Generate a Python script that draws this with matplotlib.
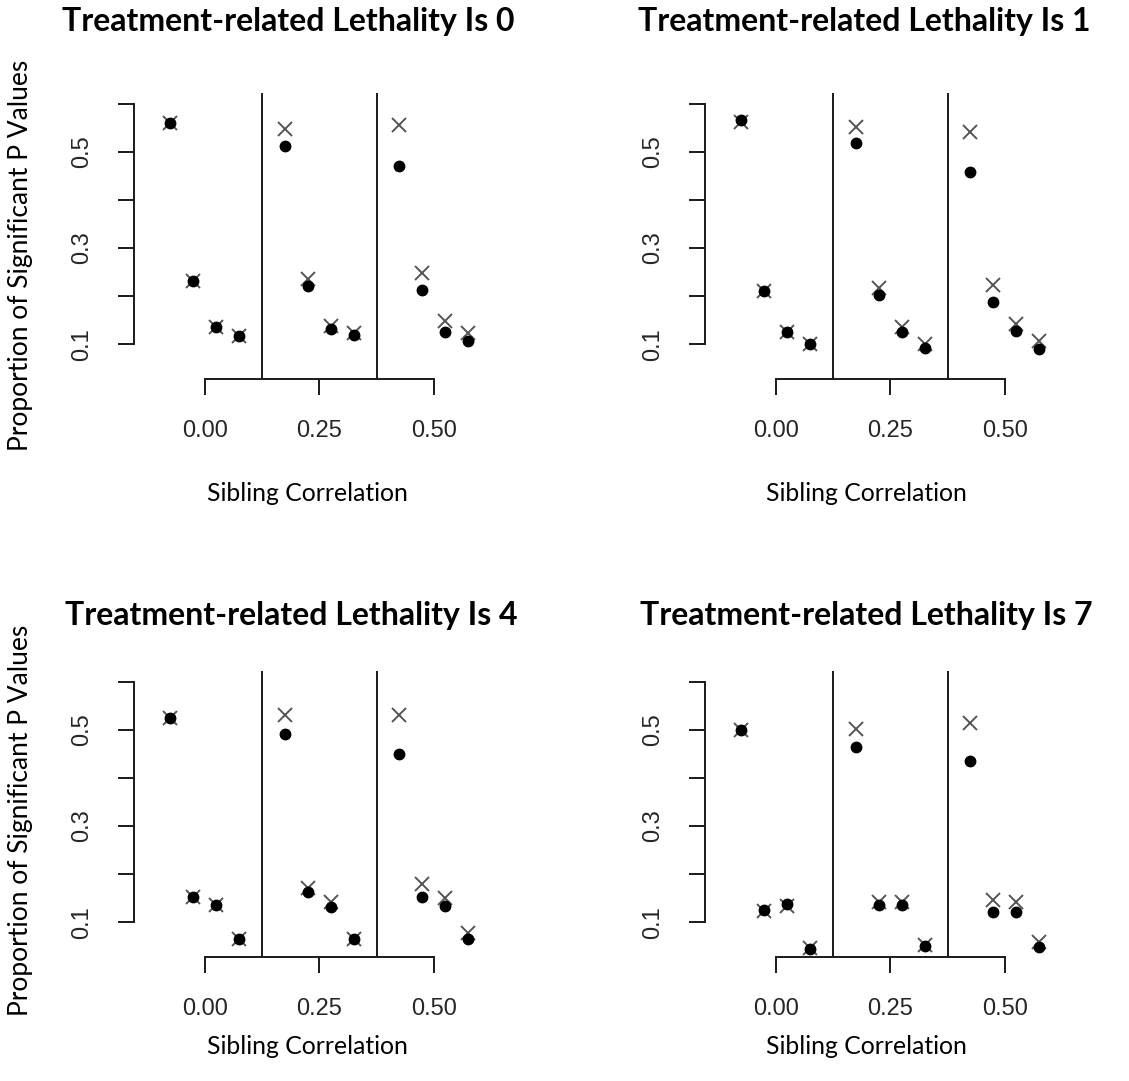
import matplotlib
matplotlib.use("Agg")
import matplotlib.pyplot as plt

W, H = 1129, 1081

# sibling correlation positions of the points (4 per group)
x_pos = [-0.075, -0.025, 0.025, 0.075, 0.175, 0.225, 0.275, 0.325,
         0.425, 0.475, 0.525, 0.575]

# proportion of significant p values, dots and crosses per lethality
dots_0 = [0.560, 0.232, 0.135, 0.117, 0.511, 0.222, 0.131, 0.119, 0.470, 0.213, 0.126, 0.107]
cross_0 = [0.560, 0.232, 0.135, 0.117, 0.548, 0.235, 0.138, 0.124, 0.555, 0.249, 0.149, 0.123]

dots_1 = [0.566, 0.211, 0.126, 0.101, 0.519, 0.202, 0.126, 0.093, 0.458, 0.188, 0.128, 0.090]
cross_1 = [0.562, 0.211, 0.126, 0.101, 0.551, 0.218, 0.135, 0.100, 0.542, 0.223, 0.142, 0.107]

dots_4 = [0.524, 0.153, 0.136, 0.065, 0.491, 0.162, 0.131, 0.065, 0.450, 0.153, 0.133, 0.065]
cross_4 = [0.524, 0.153, 0.136, 0.065, 0.531, 0.171, 0.143, 0.065, 0.531, 0.180, 0.151, 0.077]

dots_7 = [0.499, 0.126, 0.138, 0.044, 0.465, 0.136, 0.136, 0.051, 0.436, 0.122, 0.122, 0.048]
cross_7 = [0.499, 0.124, 0.134, 0.046, 0.501, 0.143, 0.143, 0.053, 0.514, 0.146, 0.143, 0.060]

lethality = ["0", "1", "4", "7"]
x_ticks = [0.0, 0.25, 0.5]
x_ticklabels = ["0.00", "0.25", "0.50"]
y_ticks = [0.1, 0.2, 0.3, 0.4, 0.5, 0.6]
y_ticklabels = ["0.1", "", "0.3", "", "0.5", ""]
group_breaks = [0.125, 0.375]

fig = plt.figure(figsize=(W / 100, H / 100), dpi=100)

# plot boxes in pixels: left, top, right, bottom
boxes = [(134, 93, 493, 379), (705, 93, 1064, 379),
         (134, 671, 493, 957), (705, 671, 1064, 957)]
title_pos = [(288, 22), (864, 22), (291, 616), (866, 616)]
xlab_pos = [(307, 493), (866, 493), (307, 1047), (866, 1047)]
ylab_pos = [(21, 255), (21, 820)]

data = [(dots_0, cross_0), (dots_1, cross_1), (dots_4, cross_4), (dots_7, cross_7)]
ink = "#1a1a1a"

for i, (l, t, r, b) in enumerate(boxes):
    ax = fig.add_axes([l / W, 1 - b / H, (r - l) / W, (b - t) / H])
    dots, cross = data[i]
    ax.plot(x_pos, cross, ls="none", marker="x", ms=10.5, mew=1.4, color="#555555", zorder=3)
    ax.plot(x_pos, dots, ls="none", marker="o", ms=7.5, color="black", zorder=4)
    for g in group_breaks:
        ax.axvline(g, color=ink, lw=1.4, zorder=2)

    ax.set_xlim(-0.154, 0.629)
    ax.set_ylim(0.028, 0.622)
    for s in ["top", "right"]:
        ax.spines[s].set_visible(False)
    ax.spines["left"].set_bounds(0.1, 0.6)
    ax.spines["bottom"].set_bounds(0.0, 0.5)
    for s in ["left", "bottom"]:
        ax.spines[s].set_color(ink)
        ax.spines[s].set_linewidth(1.4)

    ax.set_xticks(x_ticks)
    ax.set_xticklabels(x_ticklabels)
    ax.set_yticks(y_ticks)
    ax.set_yticklabels(y_ticklabels, rotation=90, va="center")
    ax.tick_params(length=11.5, width=1.4, color=ink, labelcolor="#262626",
                   labelsize=17, pad=18)
    for lab in ax.get_xticklabels() + ax.get_yticklabels():
        lab.set_family("Liberation Sans")

    tx, ty = title_pos[i]
    fig.text(tx / W, 1 - ty / H, "Treatment-related Lethality Is " + lethality[i],
             ha="center", va="center", fontsize=23, fontweight="bold", family="Lato")
    xx, xy = xlab_pos[i]
    fig.text(xx / W, 1 - xy / H, "Sibling Correlation", ha="center", va="center",
             fontsize=17.8, family="Lato")

for yx, yy in ylab_pos:
    fig.text(yx / W, 1 - yy / H, "Proportion of Significant P Values", rotation=90,
             ha="center", va="center", fontsize=19, family="Lato")

fig.savefig("out.png", dpi=100)
